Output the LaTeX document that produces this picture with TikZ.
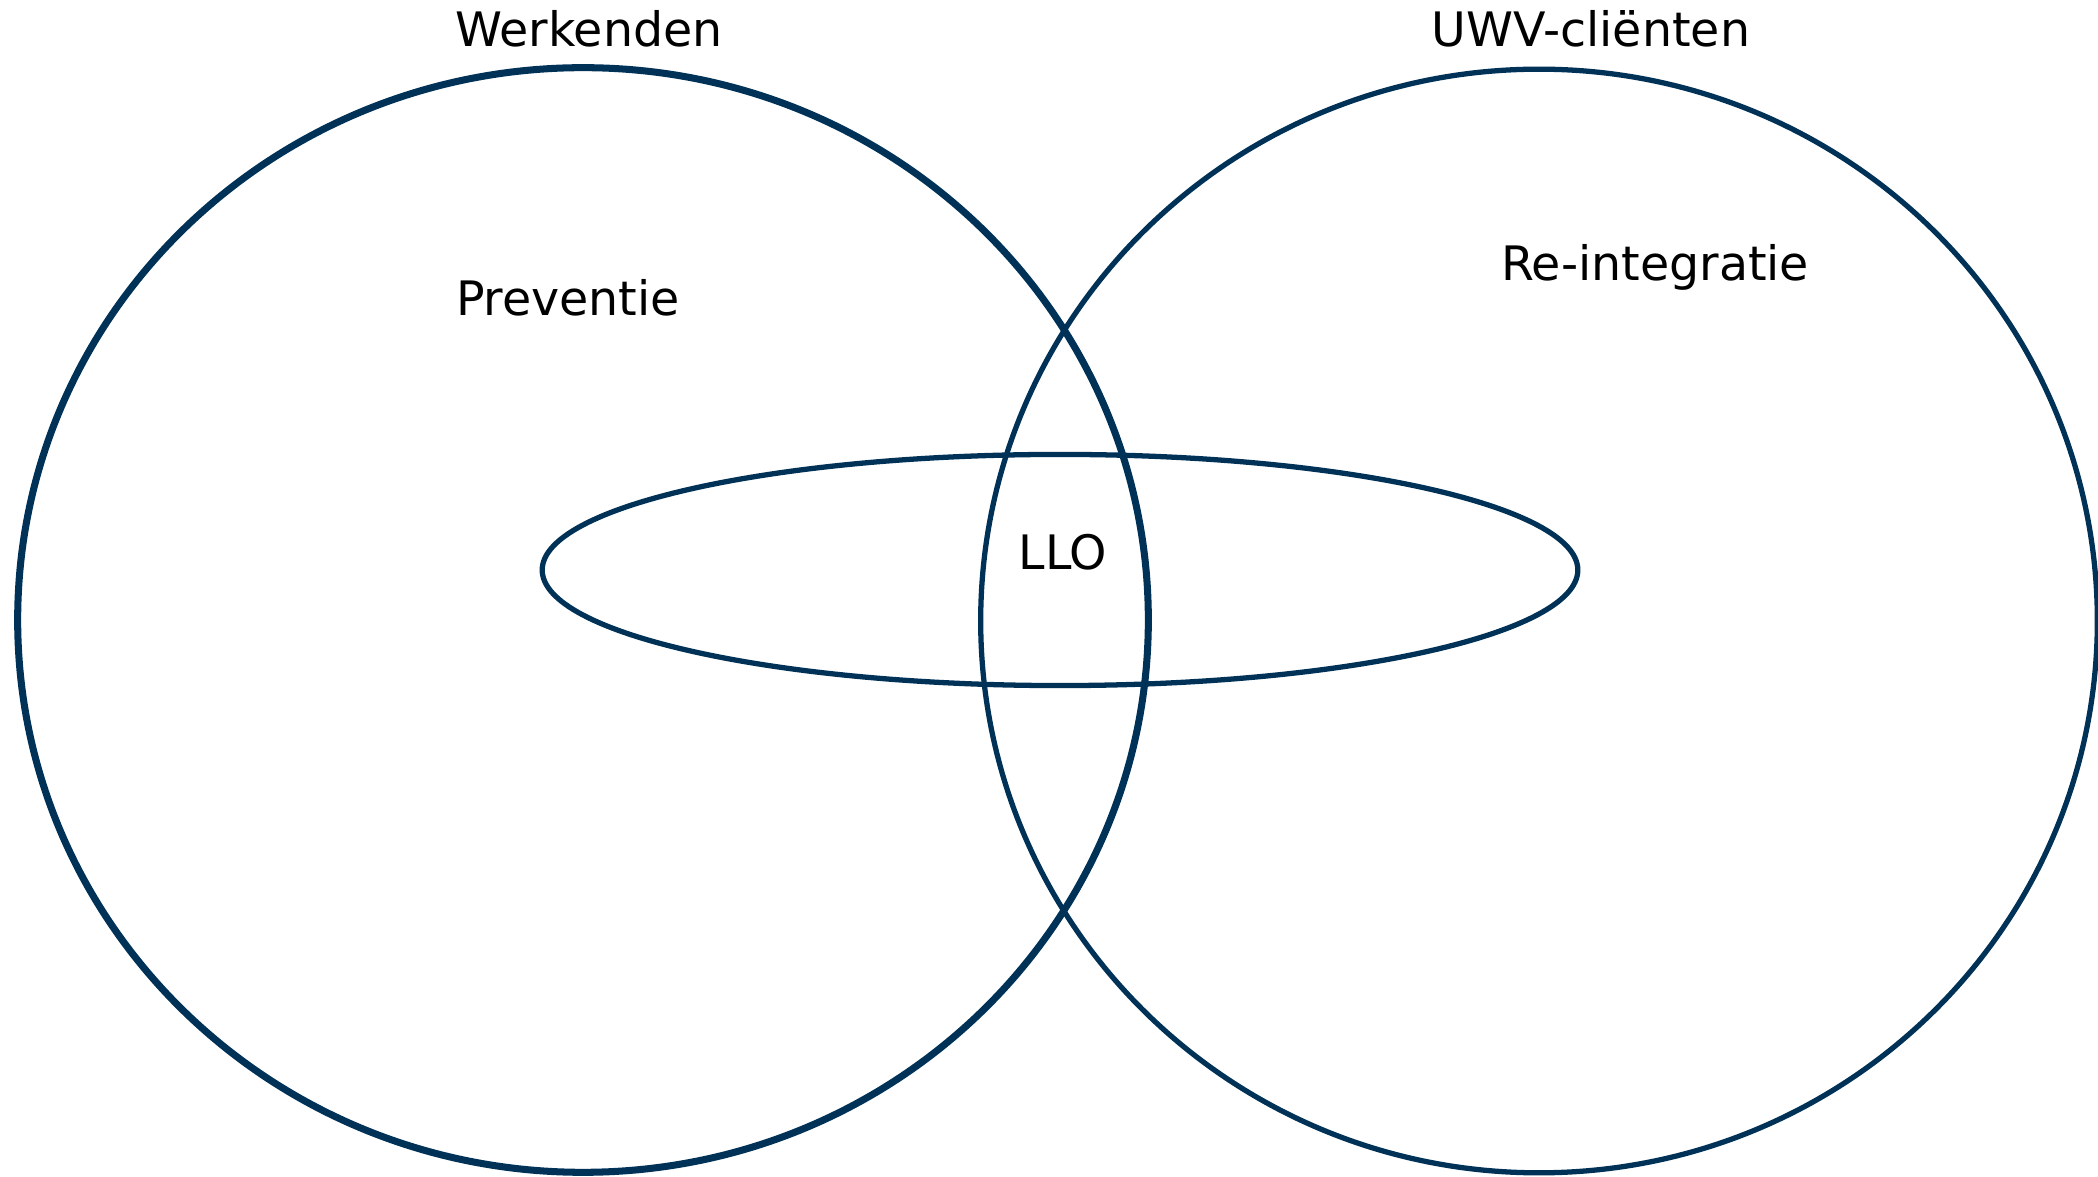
\documentclass[tikz,border=0pt]{standalone}
\usepackage{fontspec}
\setmainfont{DejaVu Sans}
\usepackage{xcolor}
\usetikzlibrary{positioning, shapes.geometric}

\definecolor{uwvblue}{RGB}{0,50,88}

\begin{document}
\begin{tikzpicture}[
					x=0.01cm, y=-0.01cm,
					font=\fontsize{13.5}{16}\selectfont,
					% Define styles for the sets
					set/.style={
						ellipse,
						draw=uwvblue,
						line width=1.5pt,
						inner sep=0pt
					},
					set_text/.style={
						anchor=base,
						text=black
					}
					]
					\useasboundingbox (0,0) rectangle (2098,1177);
					
					% --- 1. WERKENDEN ---
					\node[set, line width=2pt, minimum width=11.30cm, minimum height=11.04cm] (werk) at (583,620) {};
					\node[set_text] (werk_title) at (589,47) {Werkenden};
					\node[set_text] (prev) at (568,316) {Preventie};
					
					% --- 2. UWV-CLIENTEN ---
					\node[set, minimum width=11.16cm, minimum height=11.03cm] (uwv) at (1539,621) {};
					\node[set_text] (uwv_title) at (1591,47) {UWV-cliënten};
					\node[set_text] (reint) at (1655,281) {Re-integratie};
					
					% --- 3. LLO ---
					\node[set, minimum width=10.35cm, minimum height=2.31cm] (llo) at (1060,570) {};
					\node[set_text] (llo_text) at (1063,570) {LLO};
					
				\end{tikzpicture}
\end{document}
